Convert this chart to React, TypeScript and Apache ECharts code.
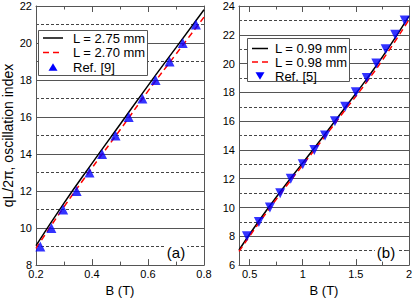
import React, { useEffect, useRef } from "react";
import * as echarts from "echarts";

const FONT = '"Liberation Sans", Arial, Helvetica, sans-serif';

// Panel (a)
const bLeft = [0.2, 0.3, 0.4, 0.5, 0.6, 0.7, 0.8];
const idx275 = [9.05, 11.35, 13.5, 15.6, 17.7, 19.75, 21.8];
const idx270 = [8.9, 11.15, 13.25, 15.3, 17.4, 19.4, 21.4];
const ref9B = [0.2155, 0.255, 0.297, 0.345, 0.391, 0.436, 0.484, 0.531, 0.58, 0.627, 0.677, 0.724, 0.771];
const ref9N = [9, 10, 11, 12, 13, 14, 15, 16, 17, 18, 19, 20, 21];
const legendA = ["L = 2.75 mm", "L = 2.70 mm", "Ref. [9]"];

// Panel (b)
const bRight = [0.4, 0.6, 0.8, 1.0, 1.2, 1.4, 1.6, 1.8, 2.0];
const idx099 = [7.05, 9.2, 11.2, 13.1, 15.0, 16.95, 18.9, 21.0, 23.3];
const idx098 = [6.95, 9.05, 11.05, 12.95, 14.85, 16.78, 18.7, 20.78, 23.05];
const ref5B = [0.475, 0.587, 0.691, 0.788, 0.887, 1.0, 1.109, 1.21, 1.303, 1.4, 1.5, 1.603, 1.693, 1.781, 1.871, 1.96];
const ref5N = [8, 9, 10, 11, 12, 13, 14, 15, 16, 17, 18, 19, 20, 21, 22, 23];
const legendB = ["L = 0.99 mm", "L = 0.98 mm", "Ref. [5]"];

const rightMajor = [0.5, 1, 1.5, 2];
const rightMinor = [0.75, 1.25, 1.75];

const AX = "#555";

function pairs(xs: number[], ys: number[]) {
  return xs.map((x, i) => [x, ys[i]]);
}

function yAxes(gridIndex: number, min: number, max: number) {
  const common = {
    gridIndex,
    type: "value" as const,
    min,
    max,
    interval: 2,
    axisLine: { show: true, lineStyle: { color: AX, width: 1 } },
    axisTick: { show: true, inside: true, length: 5, lineStyle: { color: AX } },
    minorTick: { show: true, splitNumber: 2, length: 3, lineStyle: { color: AX } },
  };
  return [
    {
      ...common,
      position: "left",
      axisLabel: { show: true, margin: 4, fontSize: 11, fontFamily: FONT, color: "#000" },
      splitLine: { show: true, lineStyle: { color: "#555", width: 1, type: "solid" } },
      minorSplitLine: { show: true, lineStyle: { color: "#444", width: 1, type: [3, 2] } },
    },
    {
      ...common,
      position: "right",
      axisLabel: { show: false },
      splitLine: { show: false },
      minorSplitLine: { show: false },
    },
  ];
}

// legend drawn as graphic: box, line samples, triangle marker, texts
function legendBox(
  names: string[],
  box: { x: number; y: number; w: number; h: number },
  rows: number[],
  lx0: number,
  lx1: number,
  tx: number,
  down: boolean
) {
  const cx = (lx0 + lx1) / 2;
  const r = rows[2];
  const tri = down
    ? [[cx - 4.5, r - 3.8], [cx + 4.5, r - 3.8], [cx, r + 3.8]]
    : [[cx, r - 3.8], [cx + 4.5, r + 3.8], [cx - 4.5, r + 3.8]];
  const textStyle = (t: string, y: number) => ({
    type: "text",
    x: tx,
    y,
    z: 21,
    style: { text: t, fontSize: 13, fontFamily: FONT, fill: "#000", align: "left", verticalAlign: "middle" },
  });
  return [
    {
      type: "rect",
      shape: { x: box.x + 0.5, y: box.y + 0.5, width: box.w, height: box.h },
      style: { fill: "#fff", stroke: AX, lineWidth: 1 },
      z: 20,
    },
    {
      type: "line",
      shape: { x1: lx0, y1: rows[0], x2: lx1, y2: rows[0] },
      style: { stroke: "#000", lineWidth: 1.5 },
      z: 21,
    },
    {
      type: "line",
      shape: { x1: lx0, y1: rows[1], x2: lx1, y2: rows[1] },
      style: { stroke: "#ff0000", lineWidth: 1.5, lineDash: [6, 4] },
      z: 21,
    },
    {
      type: "polygon",
      shape: { points: tri },
      style: { fill: "#0000ff" },
      z: 21,
    },
    textStyle(names[0], rows[0]),
    textStyle(names[1], rows[1]),
    textStyle(names[2], rows[2]),
  ];
}

export default function App() {
  const ref = useRef<HTMLDivElement>(null);
  useEffect(() => {
    if (!ref.current) return;
    const chart = echarts.init(ref.current, undefined, { renderer: "svg" });
    const nameStyle = { fontSize: 13, fontFamily: FONT, color: "#000" };
    const option: any = {
      animation: false,
      backgroundColor: "#fff",
      textStyle: { fontFamily: FONT },
      grid: [
        { left: 33, top: 6, width: 171, height: 266, containLabel: false },
        { left: 239, top: 6, width: 171, height: 266, containLabel: false },
      ],
      xAxis: [
        {
          gridIndex: 0,
          type: "value",
          position: "bottom",
          min: 0.2,
          max: 0.8,
          interval: 0.2,
          name: "B (T)",
          nameLocation: "middle",
          nameGap: 15,
          nameTextStyle: nameStyle,
          axisLine: { show: true, lineStyle: { color: AX } },
          axisTick: { show: true, inside: true, length: 6, lineStyle: { color: AX } },
          minorTick: { show: true, splitNumber: 2, length: 3.5, lineStyle: { color: AX } },
          axisLabel: { margin: 3, fontSize: 11, fontFamily: FONT, color: "#000" },
          splitLine: { show: false },
        },
        {
          gridIndex: 0,
          type: "value",
          position: "top",
          min: 0.2,
          max: 0.8,
          interval: 0.2,
          axisLine: { show: true, lineStyle: { color: AX } },
          axisTick: { show: true, inside: true, length: 6, lineStyle: { color: AX } },
          minorTick: { show: true, splitNumber: 2, length: 3.5, lineStyle: { color: AX } },
          axisLabel: { show: false },
          splitLine: { show: false },
        },
        {
          gridIndex: 1,
          type: "value",
          position: "bottom",
          min: 0.4,
          max: 2.0,
          name: "B (T)",
          nameLocation: "middle",
          nameGap: 15,
          nameTextStyle: nameStyle,
          axisLine: { show: true, lineStyle: { color: AX } },
          axisTick: { show: true, inside: true, length: 6, customValues: rightMajor, lineStyle: { color: AX } },
          axisLabel: { margin: 3, fontSize: 11, fontFamily: FONT, color: "#000", customValues: rightMajor },
          splitLine: { show: false },
        },
        {
          gridIndex: 1,
          type: "value",
          position: "bottom",
          min: 0.4,
          max: 2.0,
          axisLine: { show: false },
          axisTick: { show: true, inside: true, length: 3.5, customValues: rightMinor, lineStyle: { color: AX } },
          axisLabel: { show: false },
          splitLine: { show: false },
        },
        {
          gridIndex: 1,
          type: "value",
          position: "top",
          min: 0.4,
          max: 2.0,
          axisLine: { show: true, lineStyle: { color: AX } },
          axisTick: { show: true, inside: true, length: 6, customValues: rightMajor, lineStyle: { color: AX } },
          axisLabel: { show: false },
          splitLine: { show: false },
        },
        {
          gridIndex: 1,
          type: "value",
          position: "top",
          min: 0.4,
          max: 2.0,
          axisLine: { show: false },
          axisTick: { show: true, inside: true, length: 3.5, customValues: rightMinor, lineStyle: { color: AX } },
          axisLabel: { show: false },
          splitLine: { show: false },
        },
      ],
      yAxis: [
        {
          ...yAxes(0, 8, 22)[0],
          name: "qL/2π, oscillation index",
          nameLocation: "middle",
          nameGap: 21,
          nameTextStyle: { fontSize: 14, fontFamily: FONT, color: "#000" },
        },
        yAxes(0, 8, 22)[1],
        yAxes(1, 6, 24)[0],
        yAxes(1, 6, 24)[1],
      ],
      series: [
        {
          name: legendA[0],
          type: "line",
          xAxisIndex: 0,
          yAxisIndex: 0,
          data: pairs(bLeft, idx275),
          smooth: true,
          symbol: "none",
          lineStyle: { color: "#000", width: 1.5 },
          itemStyle: { color: "#000" },
          z: 3,
        },
        {
          name: legendA[1],
          type: "line",
          xAxisIndex: 0,
          yAxisIndex: 0,
          data: pairs(bLeft, idx270),
          smooth: true,
          symbol: "none",
          lineStyle: { color: "#ff0000", width: 1.5, type: [6, 4] },
          itemStyle: { color: "#ff0000" },
          z: 3,
        },
        {
          name: legendA[2],
          type: "scatter",
          xAxisIndex: 0,
          yAxisIndex: 0,
          data: pairs(ref9B, ref9N),
          symbol: "triangle",
          symbolSize: 10,
          itemStyle: { color: "#0000ff" },
          z: 4,
        },
        {
          name: legendB[0],
          type: "line",
          xAxisIndex: 2,
          yAxisIndex: 2,
          data: pairs(bRight, idx099),
          smooth: true,
          symbol: "none",
          lineStyle: { color: "#000", width: 1.5 },
          itemStyle: { color: "#000" },
          z: 3,
        },
        {
          name: legendB[1],
          type: "line",
          xAxisIndex: 2,
          yAxisIndex: 2,
          data: pairs(bRight, idx098),
          smooth: true,
          symbol: "none",
          lineStyle: { color: "#ff0000", width: 1.5, type: [6, 4] },
          itemStyle: { color: "#ff0000" },
          z: 3,
        },
        {
          name: legendB[2],
          type: "scatter",
          xAxisIndex: 2,
          yAxisIndex: 2,
          data: pairs(ref5B, ref5N),
          symbol: "triangle",
          symbolRotate: 180,
          symbolSize: 10,
          itemStyle: { color: "#0000ff" },
          z: 4,
        },
      ],
      graphic: [
        ...legendBox(legendA, { x: 38, y: 30, w: 109, h: 45 }, [38, 52.5, 67], 43, 63, 73, false),
        ...legendBox(legendB, { x: 247, y: 38, w: 102, h: 43 }, [48.5, 62, 76], 252, 268, 275, true),
        {
          type: "text",
          x: 176,
          y: 252,
          z: 10,
          style: {
            text: "(a)",
            fontSize: 15,
            fontFamily: FONT,
            fill: "#000",
            align: "center",
            verticalAlign: "middle",
            backgroundColor: "#fff",
            padding: [0, 2],
          },
        },
        {
          type: "text",
          x: 386,
          y: 252,
          z: 10,
          style: {
            text: "(b)",
            fontSize: 15,
            fontFamily: FONT,
            fill: "#000",
            align: "center",
            verticalAlign: "middle",
            backgroundColor: "#fff",
            padding: [0, 2],
          },
        },
      ],
    };
    chart.setOption(option);
    return () => chart.dispose();
  }, []);
  return (
    <div
      ref={ref}
      style={{ position: "absolute", left: 0, top: 0, width: 415, height: 302 }}
    />
  );
}
